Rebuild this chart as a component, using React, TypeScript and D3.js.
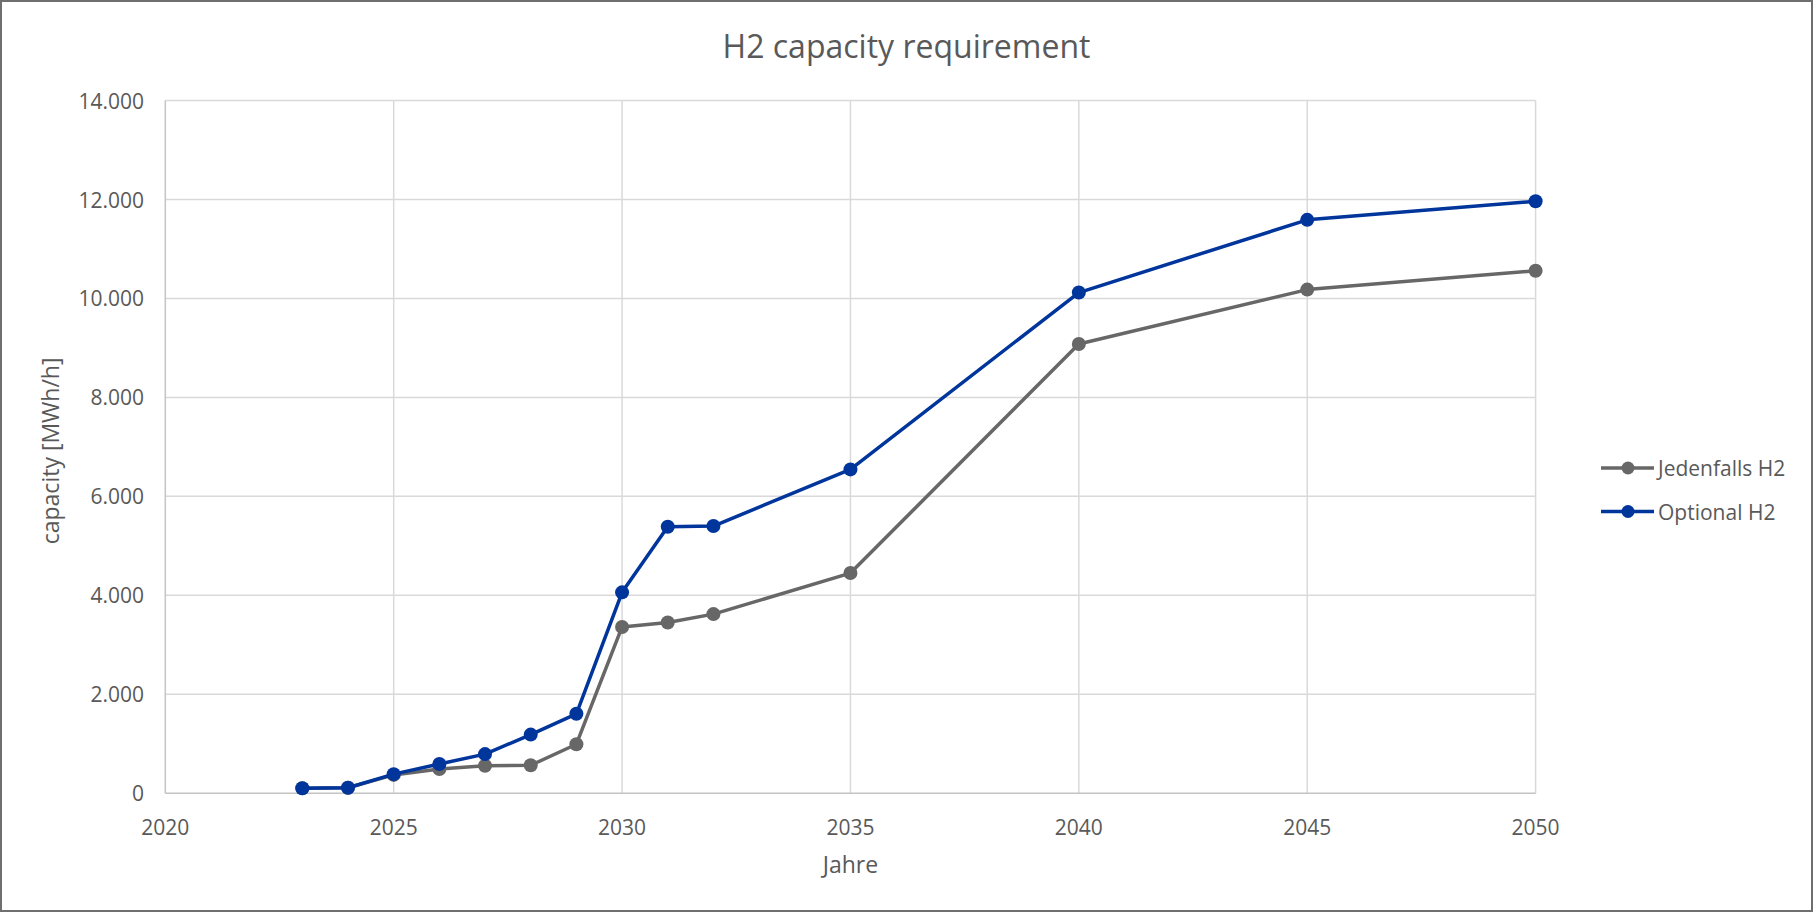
import * as d3 from "d3";
import { useEffect, useRef } from "react";

const years = [2023, 2024, 2025, 2026, 2027, 2028, 2029, 2030, 2031, 2032, 2035, 2040, 2045, 2050];
const jedenfallsH2 = [100, 110, 370, 490, 555, 565, 990, 3360, 3450, 3620, 4450, 9080, 10180, 10560];
const optionalH2 = [100, 110, 385, 590, 790, 1185, 1605, 4060, 5385, 5400, 6545, 10120, 11590, 11965];
const xTicks = [2020, 2025, 2030, 2035, 2040, 2045, 2050];
const yTicks = [0, 2000, 4000, 6000, 8000, 10000, 12000, 14000];
const seriesNames = ["Jedenfalls H2", "Optional H2"];

export default function App() {
    const ref = useRef<SVGSVGElement | null>(null);

    useEffect(() => {
        if (!ref.current) return;

        const width = 1813;
        const height = 912;
        const margin = { top: 100.6, right: 277.4, bottom: 118.8, left: 165.3 };
        const font = "'Open Sans', sans-serif";
        const textColor = "#595959";

        const svg = d3.select(ref.current);
        svg.selectAll("*").remove();

        // chart area border
        svg.append("rect")
            .attr("x", 1).attr("y", 1)
            .attr("width", width - 2).attr("height", height - 2)
            .attr("fill", "#fff")
            .attr("stroke", "#6f6f6f")
            .attr("stroke-width", 2);

        const x = d3.scaleLinear()
            .domain([2020, 2050])
            .range([margin.left, width - margin.right]);

        const y = d3.scaleLinear()
            .domain([0, 14000])
            .range([height - margin.bottom, margin.top]);

        const de = d3.formatLocale({ decimal: ",", thousands: ".", grouping: [3], currency: ["", "€"] });
        const fmt = de.format(",d");

        // gridlines
        svg.append("g")
            .selectAll("line")
            .data(yTicks.slice(1))
            .join("line")
            .attr("x1", x(2020)).attr("x2", x(2050))
            .attr("y1", (d) => y(d)).attr("y2", (d) => y(d))
            .attr("stroke", "#d9d9d9")
            .attr("stroke-width", 1.5);

        svg.append("g")
            .selectAll("line")
            .data(xTicks.slice(1))
            .join("line")
            .attr("x1", (d) => x(d)).attr("x2", (d) => x(d))
            .attr("y1", y(0)).attr("y2", y(14000))
            .attr("stroke", "#d9d9d9")
            .attr("stroke-width", 1.5);

        // axis lines
        svg.append("line")
            .attr("x1", x(2020)).attr("x2", x(2020))
            .attr("y1", y(0)).attr("y2", y(14000))
            .attr("stroke", "#c4c4c4").attr("stroke-width", 1.5);
        svg.append("line")
            .attr("x1", x(2020)).attr("x2", x(2050))
            .attr("y1", y(0)).attr("y2", y(0))
            .attr("stroke", "#c4c4c4").attr("stroke-width", 1.5);

        // tick labels
        svg.append("g")
            .selectAll("text")
            .data(yTicks)
            .join("text")
            .attr("x", 144)
            .attr("y", (d) => y(d))
            .attr("text-anchor", "end")
            .attr("dominant-baseline", "central")
            .attr("font-family", font)
            .attr("font-size", 21)
            .attr("fill", textColor)
            .text((d) => fmt(d));

        svg.append("g")
            .selectAll("text")
            .data(xTicks)
            .join("text")
            .attr("x", (d) => x(d))
            .attr("y", 827)
            .attr("text-anchor", "middle")
            .attr("dominant-baseline", "central")
            .attr("font-family", font)
            .attr("font-size", 21)
            .attr("fill", textColor)
            .text((d) => String(d));

        // titles
        svg.append("text")
            .attr("x", width / 2).attr("y", 45)
            .attr("text-anchor", "middle")
            .attr("dominant-baseline", "central")
            .attr("font-family", font)
            .attr("font-size", 32)
            .attr("fill", textColor)
            .text("H2 capacity requirement");

        svg.append("text")
            .attr("x", x(2035)).attr("y", 864)
            .attr("text-anchor", "middle")
            .attr("dominant-baseline", "central")
            .attr("font-family", font)
            .attr("font-size", 23)
            .attr("fill", textColor)
            .text("Jahre");

        svg.append("text")
            .attr("transform", `translate(50,${y(7000) + 4}) rotate(-90)`)
            .attr("text-anchor", "middle")
            .attr("dominant-baseline", "central")
            .attr("font-family", font)
            .attr("font-size", 23)
            .attr("fill", textColor)
            .text("capacity [MWh/h]");

        // series
        const series = [
            { name: seriesNames[0], values: jedenfallsH2, color: "#676767" },
            { name: seriesNames[1], values: optionalH2, color: "#00359c" },
        ];

        const line = d3.line<number>()
            .x((_, i) => x(years[i]))
            .y((d) => y(d));

        series.forEach((s) => {
            const g = svg.append("g");
            g.append("path")
                .datum(s.values)
                .attr("d", line)
                .attr("fill", "none")
                .attr("stroke", s.color)
                .attr("stroke-width", 3.5)
                .attr("stroke-linejoin", "round");
            g.selectAll("circle")
                .data(s.values)
                .join("circle")
                .attr("cx", (_, i) => x(years[i]))
                .attr("cy", (d) => y(d))
                .attr("r", 7)
                .attr("fill", s.color);
        });

        // legend
        const legend = svg.append("g")
            .selectAll("g")
            .data(series)
            .join("g")
            .attr("transform", (_, i) => `translate(1601,${468 + i * 43.5})`);

        legend.append("line")
            .attr("x1", 0).attr("x2", 53)
            .attr("stroke", (d) => d.color)
            .attr("stroke-width", 3.5);
        legend.append("circle")
            .attr("cx", 27).attr("r", 6.5)
            .attr("fill", (d) => d.color);
        legend.append("text")
            .attr("x", 57)
            .attr("dominant-baseline", "central")
            .attr("font-family", font)
            .attr("font-size", 21)
            .attr("fill", textColor)
            .text((d) => d.name);
    }, []);

    return (
        <div style={{ position: "absolute", left: 0, top: 0, width: 1813, height: 912 }}>
            <svg ref={ref} width={1813} height={912} style={{ display: "block" }}></svg>
        </div>
    );
}
